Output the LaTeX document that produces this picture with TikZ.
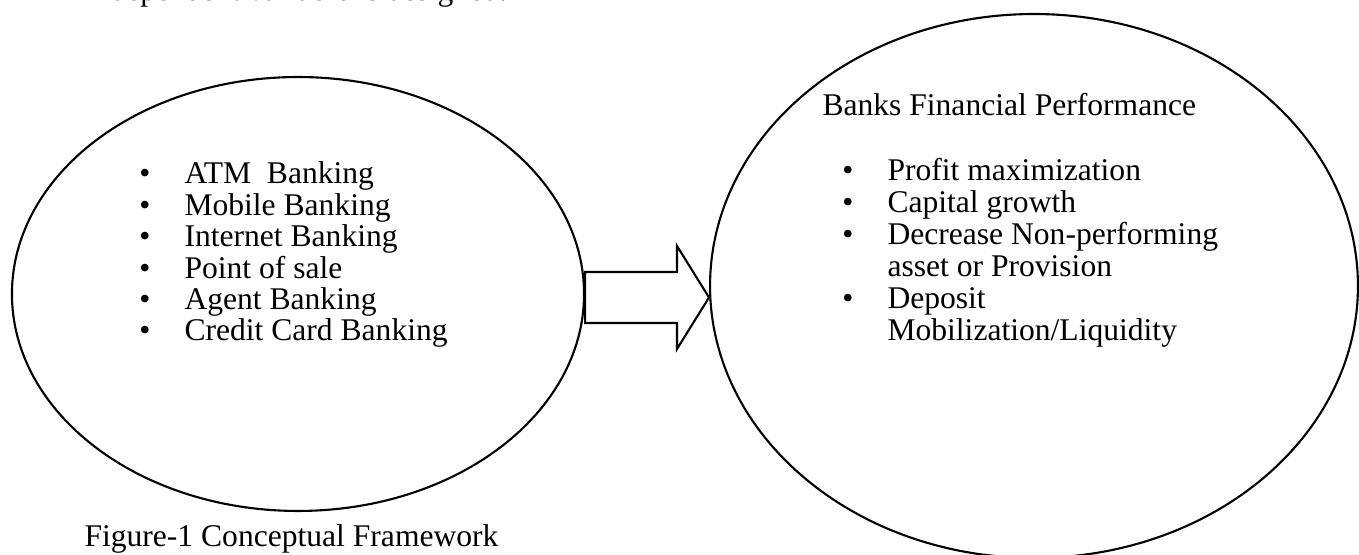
\documentclass[tikz,border=0pt]{standalone}
\usepackage{fontspec}
\setmainfont{Liberation Serif}
\usetikzlibrary{shapes.geometric,calc}
\begin{document}
\begin{tikzpicture}[x=0.38pt,y=-0.38pt,
  oval/.style={draw,ellipse,line width=0.8pt,inner sep=0pt},
  txt/.style={anchor=base west,inner sep=0pt,font=\fontsize{12}{14}\selectfont},
  bul/.style={anchor=base,inner sep=0pt,font=\fontsize{12}{14}\selectfont},
  arr/.style={draw,line width=0.8pt,line join=miter}]
\useasboundingbox (0,0) rectangle (1359,555);
\begin{scope}
\clip (0,0) rectangle (1359,555);
\node[txt] (top) at (110,1) {dependent variable is designed.};
\node[oval,minimum width=217.4pt,minimum height=164.9pt] (L) at (298,294) {};
\node[oval,minimum width=246.2pt,minimum height=206.7pt] (R) at (1034,286) {};
% arrow
\coordinate (as) at ($(L.east)+(0,3.5)$);
\coordinate (tip) at (R.west |- as);
\coordinate (hb) at ($(tip)+(-32,0)$);
\draw[arr] ($(as)+(0,-25.5)$) -- ($(hb)+(0,-25.5)$) -- ($(hb)+(0,-51.5)$) -- (tip)
  -- ($(hb)+(0,51.5)$) -- ($(hb)+(0,25.5)$) -- ($(as)+(0,25.5)$) -- cycle;
% left list
\foreach \t [count=\i] in {ATM\ \ Banking,Mobile Banking,Internet Banking,Point of sale,Agent Banking,Credit Card Banking}{
  \node[bul] (lb\i) at (145,{184+31.4*(\i-1)}) {•};
  \node[txt] (lt\i) at (184,{184+31.4*(\i-1)}) {\t};
}
% right
\node[txt] (head) at (822,116) {Banks Financial Performance};
\node[bul] (rb1) at (848,181) {•};
\node[txt] (rt1) at (887,181) {Profit maximization};
\node[bul] (rb2) at (848,213) {•};
\node[txt] (rt2) at (887,213) {Capital growth};
\node[bul] (rb3) at (848,245) {•};
\node[txt] (rt3) at (887,245) {Decrease Non-performing};
\node[txt] (rt4) at (887,277) {asset or Provision};
\node[bul] (rb5) at (848,309) {•};
\node[txt] (rt5) at (887,309) {Deposit};
\node[txt] (rt6) at (887,341) {Mobilization/Liquidity};
% caption
\node[txt] (cap) at (84,547) {Figure-1 Conceptual Framework};
\end{scope}
\end{tikzpicture}
\end{document}
